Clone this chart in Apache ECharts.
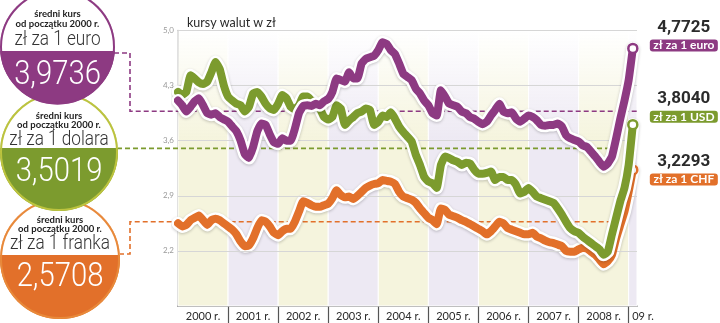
<!DOCTYPE html>
<html><head><meta charset="utf-8">
<script src="https://cdn.jsdelivr.net/npm/echarts@6/dist/echarts.min.js"></script>
<style>html,body{margin:0;padding:0;background:#fff}#c{width:720px;height:323px}</style>
</head><body><div id="c"></div>
<script>
// ---------- DATA ----------
const years = [2000, 2001, 2002, 2003, 2004, 2005, 2006, 2007, 2008, 2009];
const yearLabels = ['2000 r.', '2001 r.', '2002 r.', '2003 r.', '2004 r.', '2005 r.', '2006 r.', '2007 r.', '2008 r.', '09 r.'];
const yTicks = [1.5, 2.2, 2.9, 3.6, 4.3, 5.0];
const names = ['euro', 'USD', 'CHF'];
const boxTexts = ['zł za 1 euro', 'zł za 1 USD', 'zł za 1 CHF'];
const panelUnits = ['zł za 1 euro', 'zł za 1 dolara', 'zł za 1 franka'];
const averages = [3.9736, 3.5019, 2.5708];

const eur = [4.11, 4.05, 3.97, 4.03, 4.10, 4.14, 4.05, 3.95, 3.93, 3.95,
  3.90, 3.87, 3.84, 3.78, 3.72, 3.60, 3.43, 3.38, 3.52, 3.72,
  3.82, 3.80, 3.68, 3.58, 3.56, 3.63, 3.60, 3.60, 3.75, 3.95,
  4.04, 4.05, 4.04, 4.07, 4.05, 4.10,
  4.13, 4.22, 4.39, 4.37,
  4.35, 4.47, 4.39, 4.39, 4.58, 4.64, 4.66, 4.68, 4.75, 4.85,
  4.83, 4.75, 4.70, 4.58, 4.45, 4.41, 4.37, 4.26, 4.20, 4.11,
  4.05, 3.95, 3.92, 4.24, 4.16, 4.07, 4.05, 4.03, 3.97, 3.95,
  3.90, 3.88, 3.84, 3.81,
  3.84, 3.92, 3.99, 4.07, 3.97, 3.95,
  3.96, 3.88, 3.84, 3.88, 3.92, 3.90, 3.86, 3.80, 3.79, 3.80,
  3.80, 3.82, 3.78, 3.67, 3.63, 3.61, 3.59, 3.54, 3.52, 3.46,
  3.40, 3.33, 3.27, 3.31, 3.40, 3.63, 3.88, 4.11, 4.37, 4.7725];

const usd = [4.22, 4.18, 4.22, 4.43, 4.39, 4.34, 4.32, 4.35, 4.47, 4.60,
  4.51, 4.30, 4.16, 4.11, 4.07, 4.05, 3.97, 4.03, 4.20, 4.22,
  4.16, 4.07, 4.01, 3.99, 4.07, 4.18, 4.14, 4.03, 4.00, 4.05,
  4.16, 4.16, 4.11, 4.07, 4.01, 3.90,
  3.87, 3.90, 4.05, 4.01,
  3.80, 3.86, 3.90, 3.95, 3.97, 4.01, 3.99, 3.80, 3.84, 3.92,
  3.90, 3.96, 3.88, 3.78, 3.71, 3.65, 3.59, 3.42, 3.29, 3.14,
  3.08, 3.06, 3.00, 3.29, 3.40, 3.38, 3.35, 3.33, 3.29, 3.32,
  3.31, 3.23, 3.18, 3.18,
  3.19, 3.21, 3.10, 3.14, 3.14, 3.10,
  3.10, 3.04, 2.93, 2.95, 3.00, 2.95, 2.89, 2.87, 2.85, 2.83,
  2.81, 2.74, 2.66, 2.57, 2.49, 2.45, 2.43, 2.38, 2.34, 2.30,
  2.26, 2.22, 2.15, 2.19, 2.41, 2.62, 2.83, 3.00, 3.29, 3.8040];

const chf = [2.55, 2.51, 2.53, 2.59, 2.62, 2.65, 2.59, 2.53, 2.59, 2.61,
  2.59, 2.55, 2.51, 2.47, 2.41, 2.32, 2.26, 2.27, 2.36, 2.49,
  2.59, 2.57, 2.51, 2.43, 2.40, 2.45, 2.48, 2.48, 2.57, 2.70,
  2.83, 2.81, 2.78, 2.76, 2.76, 2.78,
  2.80, 2.87, 2.97, 2.91,
  2.88, 2.89, 2.86, 2.90, 2.95, 3.00, 3.03, 3.05, 3.06, 3.10,
  3.09, 3.08, 3.05, 2.95, 2.89, 2.87, 2.85, 2.81, 2.74, 2.68,
  2.62, 2.59, 2.54, 2.74, 2.72, 2.66, 2.64, 2.62, 2.59, 2.57,
  2.54, 2.51, 2.48, 2.45,
  2.41, 2.45, 2.51, 2.57, 2.55, 2.49,
  2.47, 2.45, 2.43, 2.41, 2.41, 2.43, 2.38, 2.36, 2.33, 2.31,
  2.30, 2.28, 2.26, 2.20, 2.19, 2.19, 2.22, 2.24, 2.23, 2.19,
  2.15, 2.09, 2.03, 2.07, 2.15, 2.36, 2.53, 2.70, 2.95, 3.2293];

// month categories Jan 2000 .. Mar 2009
const months = [];
years.forEach(y => { for (let m = 1; m <= 12; m++) if (months.length < 111) months.push(y + '-' + String(m).padStart(2, '0')); });

// ---------- STYLE ----------
const colors = ['#8d3a82', '#7c9b2e', '#e2702a'];
const ringColors = ['#8d3a82', '#bcc33e', '#e8893a'];
const bandYellow = [245, 244, 221];
const bandLav = [237, 233, 243];
const fmt4 = v => v.toFixed(4).replace('.', ',');
const fmt1 = v => v.toFixed(1).replace('.', ',');
const nulls = months.map(() => null);

function bandColor(c) {
  return new echarts.graphic.LinearGradient(0, 0, 0, 1, [
    { offset: 0, color: 'rgba(' + c.join(',') + ',0)' },
    { offset: 0.4, color: 'rgba(' + c.join(',') + ',1)' },
    { offset: 1, color: 'rgba(' + c.join(',') + ',1)' }
  ]);
}

const bands = years.map((y, i) => [
  { xAxis: months[i * 12], itemStyle: { color: bandColor(i % 2 ? bandLav : bandYellow), borderColor: '#fff', borderWidth: 1 } },
  { xAxis: months[Math.min(i * 12 + 12, months.length - 1)] }
]);

const labelDy = [-13, -18, -0.5];
const dataSets = [eur, usd, chf];

function seriesFor(k, z) {
  const data = dataSets[k];
  const last = data.length - 1;
  const base = { type: 'line', data: data, smooth: 0.12, animation: false, emphasis: { disabled: true }, silent: true };
  return [
    Object.assign({}, base, {
      name: names[k] + '-halo', z: z, symbol: 'none',
      lineStyle: { color: '#fff', width: 13, cap: 'round', join: 'round', shadowColor: 'rgba(0,0,0,0.22)', shadowBlur: 3, shadowOffsetY: 1 }
    }),
    Object.assign({}, base, {
      name: names[k], z: z + 1,
      symbol: (v, p) => (p.dataIndex === last ? 'circle' : 'none'),
      showSymbol: true, showAllSymbol: true, symbolSize: 9,
      itemStyle: { color: '#fff', borderColor: colors[k], borderWidth: 2.5 },
      lineStyle: { color: colors[k], width: 8, cap: 'round', join: 'round' },
      endLabel: {
        show: true, distance: 8, offset: [9, labelDy[k]],
        formatter: p => '{v|' + fmt4(p.value) + '}\n{b|' + boxTexts[k] + '}',
        rich: {
          v: { width: 68, align: 'center', fontSize: 17, fontWeight: 'bold', color: '#2b2b2b', lineHeight: 20, fontFamily: 'Roboto' },
          b: { width: 68, align: 'center', fontSize: 12, fontWeight: 'bold', color: '#fff', backgroundColor: colors[k], borderRadius: 3, lineHeight: 15, fontFamily: 'Lato' }
        }
      }
    })
  ];
}

const chart = echarts.init(document.getElementById('c'));
chart.setOption({
  animation: false,
  title: { text: 'kursy walut w zł', left: 182, top: 11, textStyle: { fontSize: 12.5, fontWeight: 'normal', color: '#2a2a2a', fontFamily: 'Lato' } },
  grid: { left: 178, right: 83, top: 30.5, bottom: 17 },
  xAxis: {
    type: 'category', data: months, boundaryGap: false,
    axisLine: { lineStyle: { color: '#555', width: 1.5 } },
    axisTick: { interval: (i) => i % 12 === 0 && i > 0, length: 17, lineStyle: { color: '#555', width: 1.2 } },
    axisLabel: {
      interval: (i, v) => v.endsWith('-07') || i === months.length - 1,
      margin: 5, fontSize: 11, color: '#2a2a2a', fontFamily: 'Lato',
      formatter: (v, i) => (i === months.length - 1 ? '{e|' + yearLabels[9] + '}' : yearLabels[Math.floor(i / 12)]),
      rich: { e: { fontSize: 11, color: '#2a2a2a', fontFamily: 'Lato', padding: [0, 0, 0, 12] } }
    },
    splitLine: { show: false }
  },
  yAxis: {
    type: 'value', min: yTicks[0], max: yTicks[yTicks.length - 1],
    axisLine: { show: true, lineStyle: { color: '#b0b0b0', width: 1.5 } },
    axisTick: { show: false }, axisLabel: { show: false }, splitLine: { show: false }
  },
  series: [
    { type: 'line', name: 'bands', data: nulls, z: 0, silent: true, symbol: 'none',
      markArea: { silent: true, data: bands } },
    { type: 'line', name: 'grid', data: nulls, z: 1, silent: true, symbol: 'none',
      markLine: {
        silent: true, symbol: 'none', animation: false,
        lineStyle: { color: '#d6d6d6', type: 'solid', width: 1 },
        label: { position: 'start', distance: 4, formatter: p => fmt1(p.value), color: '#9a9a9a', fontSize: 8, fontFamily: 'Lato' },
        data: yTicks.map((v, i) => (i === 0 ? { yAxis: v, lineStyle: { opacity: 0 } } : { yAxis: v }))
      } }
  ].concat(seriesFor(2, 4), seriesFor(1, 6), seriesFor(0, 8))
});

// ---------- LEFT PANELS & DASHED CONNECTORS ----------
const panels = [
  { cx: 57.5, cy: 47, r: 57.5, by: 51, ty: [14, 24, 40, 75] },
  { cx: 59, cy: 152, r: 59, by: 148, ty: [116, 125, 140, 172] },
  { cx: 60, cy: 259, r: 60, by: 255, ty: [220, 229, 244, 277] }
];

function topSegment(cx, cy, r, by) {
  const t0 = Math.asin(Math.max(-1, Math.min(1, (by - cy) / r)));
  const a = Math.PI - t0, b = 2 * Math.PI + t0, pts = [];
  for (let i = 0; i <= 60; i++) { const t = a + (b - a) * i / 60; pts.push([cx + r * Math.cos(t), cy + r * Math.sin(t)]); }
  return pts;
}

const g = [];
const yPix = averages.map(v => chart.convertToPixel({ yAxisIndex: 0 }, v));
const xEnd = [chart.convertToPixel({ xAxisIndex: 0 }, months.length - 1),
              chart.convertToPixel({ xAxisIndex: 0 }, 104.8),
              chart.convertToPixel({ xAxisIndex: 0 }, 103.6)];
const connectors = [
  [[114, 53], [130, 53], [130, yPix[0]], [xEnd[0], yPix[0]]],
  [[117, yPix[1]], [xEnd[1], yPix[1]]],
  [[119, 254], [130, 254], [130, yPix[2]], [xEnd[2], yPix[2]]]
];
connectors.forEach((pts, k) => g.push({
  type: 'polyline', z: 1, silent: true, shape: { points: pts },
  style: { stroke: colors[k], lineWidth: 1.6, lineDash: [5, 3], fill: null }
}));

[2, 1, 0].forEach(k => {
  const p = panels[k];
  const zb = 20 + (2 - k) * 10;
  g.push({ type: 'circle', z: zb, silent: true, shape: { cx: p.cx, cy: p.cy, r: p.r }, style: { fill: colors[k] } });
  g.push({ type: 'polygon', z: zb + 1, silent: true, shape: { points: topSegment(p.cx, p.cy, p.r, p.by) }, style: { fill: '#fff' } });
  g.push({ type: 'circle', z: zb + 2, silent: true, shape: { cx: p.cx, cy: p.cy, r: p.r - 1 }, style: { fill: null, stroke: ringColors[k], lineWidth: 2 } });
  g.push({ type: 'text', z: zb + 3, silent: true, x: p.cx, y: p.ty[0],
    style: { text: 'średni kurs', font: 'bold 9.5px Lato', fill: '#222', align: 'center', verticalAlign: 'middle' } });
  g.push({ type: 'text', z: zb + 3, silent: true, x: p.cx, y: p.ty[1],
    style: { text: 'od początku 2000 r.', font: 'bold 9.5px Lato', fill: '#222', align: 'center', verticalAlign: 'middle' } });
  g.push({ type: 'text', z: zb + 3, silent: true, x: p.cx, y: p.ty[2], scaleX: 0.86,
    style: { text: panelUnits[k], font: '300 20px Roboto', fill: '#333', align: 'center', verticalAlign: 'middle' } });
  g.push({ type: 'text', z: zb + 3, silent: true, x: p.cx, y: p.ty[3], scaleX: 0.86,
    style: { text: fmt4(averages[k]), font: '300 34px Roboto', fill: '#fff', align: 'center', verticalAlign: 'middle' } });
});

chart.setOption({ graphic: g });
</script>
</body></html>
